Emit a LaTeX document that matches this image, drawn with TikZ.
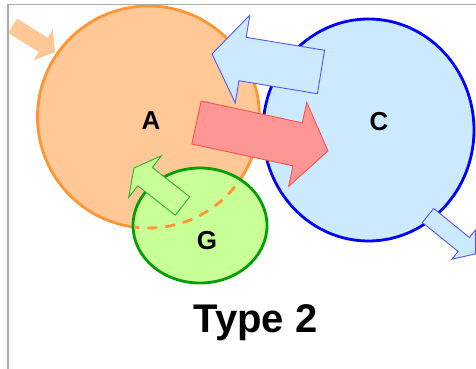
\documentclass[tikz,border=0pt]{standalone}
\usepackage{fontspec}
\setmainfont{Liberation Sans}
\usetikzlibrary{shapes.geometric}

\definecolor{aFill}{RGB}{255,200,150}
\definecolor{aLine}{RGB}{255,150,50}
\definecolor{cFill}{RGB}{204,234,255}
\definecolor{cLine}{RGB}{0,0,255}
\definecolor{gFill}{RGB}{200,255,150}
\definecolor{gLine}{RGB}{0,160,0}
\definecolor{redFill}{RGB}{255,150,150}
\definecolor{redLine}{RGB}{255,80,80}
\definecolor{blueArrowLine}{RGB}{85,85,255}
\definecolor{greenArrowLine}{RGB}{40,180,40}
\definecolor{frameGray}{RGB}{170,170,170}

% fat arrow: #1 style, (#2,#3) middle of the tail, #4 direction,
% #5 length tail-to-tip, #6 shaft half-width, #7 head half-width, #8 head length
\newcommand{\fatarrow}[8]{%
  \draw[#1, shift={(#2,#3)}, rotate=#4]
    (0pt,-#6pt) -- ({#5-#8},-#6pt) -- ({#5-#8},-#7pt) -- (#5pt,0pt)
    -- ({#5-#8},#7pt) -- ({#5-#8},#6pt) -- (0pt,#6pt) -- cycle;}

\tikzset{
  set/.style={ellipse, inner sep=0pt, outer sep=0pt, line width=2.8pt},
  setlabel/.style={font=\bfseries\fontsize{26}{26}\selectfont, anchor=base, inner sep=0pt},
  arrowA/.style={fill=aFill, draw=aFill!90!aLine, line width=0.6pt, line join=miter},
  arrowC/.style={fill=cFill, draw=blueArrowLine, line width=0.9pt, line join=miter},
  arrowR/.style={fill=redFill, draw=redLine, line width=0.9pt, line join=miter},
  arrowG/.style={fill=gFill, draw=greenArrowLine, line width=0.9pt, line join=miter},
}

\begin{document}
\begin{tikzpicture}[x=1pt, y=-1pt]
  \useasboundingbox (0,0) rectangle (476,369);
  \clip (0,0) rectangle (476,369);

  % the three sets
  \node[set, fill=aFill, draw=aLine, minimum width=222pt, minimum height=222pt] (A) at (148.5,117) {};
  \node[set, fill=cFill, draw=cLine, minimum width=211pt, minimum height=222pt] (C) at (368.5,130) {};
  \node[set, fill=gFill, draw=gLine, minimum width=134pt, minimum height=115pt] (G) at (200,225.5) {};

  % hidden part of A's border inside G
  \begin{scope}
    \clip (200,225.5) ellipse [x radius=65.6pt, y radius=56.1pt];
    \draw[aLine, line width=2.8pt, dash pattern=on 10pt off 8pt]
      (148.5,117) ellipse [x radius=111pt, y radius=111pt];
  \end{scope}

  % labels
  \node[setlabel] (labA) at (151,129) {A};
  \node[setlabel] (labC) at (379,130) {C};
  \node[setlabel] (labG) at (207,249) {G};

  % flows
  \fatarrow{arrowA}{13}{26}{-32}{49}{8}{17}{13}
  \fatarrow{arrowC}{321}{72}{170.6}{110.5}{22}{44.5}{31}
  \fatarrow{arrowR}{196.5}{122.5}{-12.2}{134.5}{22}{43}{31}
  \fatarrow{arrowG}{182.5}{206}{141.9}{61.6}{11.7}{26.5}{14}
  \fatarrow{arrowC}{428}{215.5}{-39}{61}{9}{19}{15}

  % caption
  \node[font=\bfseries\fontsize{40}{40}\selectfont, anchor=base, inner sep=0pt] (title) at (255.5,332) {Type 2};

  % frame edges
  \draw[frameGray, line width=1.5pt] (8,369) -- (8,4.5) -- (476,4.5);
\end{tikzpicture}
\end{document}
